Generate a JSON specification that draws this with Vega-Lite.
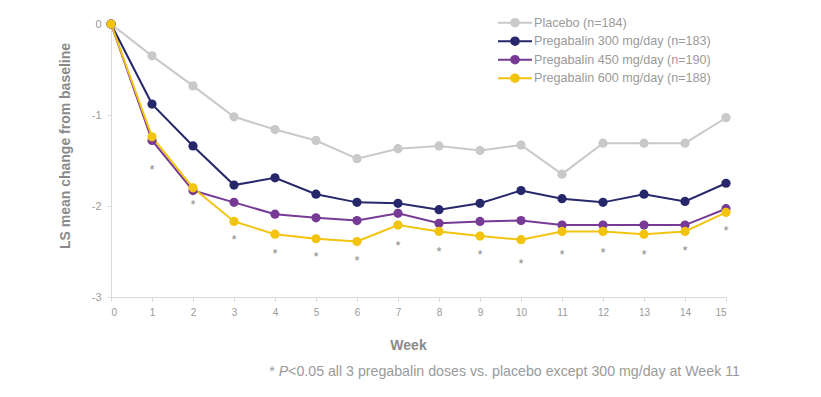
{
  "$schema": "https://vega.github.io/schema/vega-lite/v6.json",
  "width": 615,
  "height": 273,
  "autosize": "none",
  "padding": {"left": 111, "top": 24, "right": 95, "bottom": 100},
  "background": "white",
  "config": {
    "view": {"stroke": null},
    "font": "Liberation Sans",
    "axis": {"grid": false, "domainColor": "#d9d9d9", "tickColor": "#d9d9d9", "labelColor": "#9a9a9a", "labelFontSize": 11, "titleColor": "#8a8a8a", "titleFontSize": 14, "titleFontWeight": "bold", "labelFont": "Liberation Sans", "titleFont": "Liberation Sans"}
  },
  "datasets": {
    "series": [
      {"week": 0, "group": "Placebo (n=184)", "value": 0},
      {"week": 1, "group": "Placebo (n=184)", "value": -0.35},
      {"week": 2, "group": "Placebo (n=184)", "value": -0.68},
      {"week": 3, "group": "Placebo (n=184)", "value": -1.02},
      {"week": 4, "group": "Placebo (n=184)", "value": -1.16},
      {"week": 5, "group": "Placebo (n=184)", "value": -1.28},
      {"week": 6, "group": "Placebo (n=184)", "value": -1.48},
      {"week": 7, "group": "Placebo (n=184)", "value": -1.37},
      {"week": 8, "group": "Placebo (n=184)", "value": -1.34},
      {"week": 9, "group": "Placebo (n=184)", "value": -1.39},
      {"week": 10, "group": "Placebo (n=184)", "value": -1.33},
      {"week": 11, "group": "Placebo (n=184)", "value": -1.65},
      {"week": 12, "group": "Placebo (n=184)", "value": -1.31},
      {"week": 13, "group": "Placebo (n=184)", "value": -1.31},
      {"week": 14, "group": "Placebo (n=184)", "value": -1.31},
      {"week": 15, "group": "Placebo (n=184)", "value": -1.03},
      {"week": 0, "group": "Pregabalin 300 mg/day (n=183)", "value": 0},
      {"week": 1, "group": "Pregabalin 300 mg/day (n=183)", "value": -0.88},
      {"week": 2, "group": "Pregabalin 300 mg/day (n=183)", "value": -1.34},
      {"week": 3, "group": "Pregabalin 300 mg/day (n=183)", "value": -1.77},
      {"week": 4, "group": "Pregabalin 300 mg/day (n=183)", "value": -1.69},
      {"week": 5, "group": "Pregabalin 300 mg/day (n=183)", "value": -1.87},
      {"week": 6, "group": "Pregabalin 300 mg/day (n=183)", "value": -1.96},
      {"week": 7, "group": "Pregabalin 300 mg/day (n=183)", "value": -1.97},
      {"week": 8, "group": "Pregabalin 300 mg/day (n=183)", "value": -2.04},
      {"week": 9, "group": "Pregabalin 300 mg/day (n=183)", "value": -1.97},
      {"week": 10, "group": "Pregabalin 300 mg/day (n=183)", "value": -1.83},
      {"week": 11, "group": "Pregabalin 300 mg/day (n=183)", "value": -1.92},
      {"week": 12, "group": "Pregabalin 300 mg/day (n=183)", "value": -1.96},
      {"week": 13, "group": "Pregabalin 300 mg/day (n=183)", "value": -1.87},
      {"week": 14, "group": "Pregabalin 300 mg/day (n=183)", "value": -1.95},
      {"week": 15, "group": "Pregabalin 300 mg/day (n=183)", "value": -1.75},
      {"week": 0, "group": "Pregabalin 450 mg/day (n=190)", "value": 0},
      {"week": 1, "group": "Pregabalin 450 mg/day (n=190)", "value": -1.28},
      {"week": 2, "group": "Pregabalin 450 mg/day (n=190)", "value": -1.83},
      {"week": 3, "group": "Pregabalin 450 mg/day (n=190)", "value": -1.96},
      {"week": 4, "group": "Pregabalin 450 mg/day (n=190)", "value": -2.09},
      {"week": 5, "group": "Pregabalin 450 mg/day (n=190)", "value": -2.13},
      {"week": 6, "group": "Pregabalin 450 mg/day (n=190)", "value": -2.16},
      {"week": 7, "group": "Pregabalin 450 mg/day (n=190)", "value": -2.08},
      {"week": 8, "group": "Pregabalin 450 mg/day (n=190)", "value": -2.19},
      {"week": 9, "group": "Pregabalin 450 mg/day (n=190)", "value": -2.17},
      {"week": 10, "group": "Pregabalin 450 mg/day (n=190)", "value": -2.16},
      {"week": 11, "group": "Pregabalin 450 mg/day (n=190)", "value": -2.21},
      {"week": 12, "group": "Pregabalin 450 mg/day (n=190)", "value": -2.21},
      {"week": 13, "group": "Pregabalin 450 mg/day (n=190)", "value": -2.21},
      {"week": 14, "group": "Pregabalin 450 mg/day (n=190)", "value": -2.21},
      {"week": 15, "group": "Pregabalin 450 mg/day (n=190)", "value": -2.03},
      {"week": 0, "group": "Pregabalin 600 mg/day (n=188)", "value": 0},
      {"week": 1, "group": "Pregabalin 600 mg/day (n=188)", "value": -1.24},
      {"week": 2, "group": "Pregabalin 600 mg/day (n=188)", "value": -1.80},
      {"week": 3, "group": "Pregabalin 600 mg/day (n=188)", "value": -2.17},
      {"week": 4, "group": "Pregabalin 600 mg/day (n=188)", "value": -2.31},
      {"week": 5, "group": "Pregabalin 600 mg/day (n=188)", "value": -2.36},
      {"week": 6, "group": "Pregabalin 600 mg/day (n=188)", "value": -2.39},
      {"week": 7, "group": "Pregabalin 600 mg/day (n=188)", "value": -2.21},
      {"week": 8, "group": "Pregabalin 600 mg/day (n=188)", "value": -2.28},
      {"week": 9, "group": "Pregabalin 600 mg/day (n=188)", "value": -2.33},
      {"week": 10, "group": "Pregabalin 600 mg/day (n=188)", "value": -2.37},
      {"week": 11, "group": "Pregabalin 600 mg/day (n=188)", "value": -2.28},
      {"week": 12, "group": "Pregabalin 600 mg/day (n=188)", "value": -2.28},
      {"week": 13, "group": "Pregabalin 600 mg/day (n=188)", "value": -2.31},
      {"week": 14, "group": "Pregabalin 600 mg/day (n=188)", "value": -2.28},
      {"week": 15, "group": "Pregabalin 600 mg/day (n=188)", "value": -2.07}
    ],
    "stars": [
      {"week": 1, "value": -1.57},
      {"week": 2, "value": -1.96},
      {"week": 3, "value": -2.34},
      {"week": 4, "value": -2.49},
      {"week": 5, "value": -2.53},
      {"week": 6, "value": -2.57},
      {"week": 7, "value": -2.41},
      {"week": 8, "value": -2.47},
      {"week": 9, "value": -2.51},
      {"week": 10, "value": -2.60},
      {"week": 11, "value": -2.50},
      {"week": 12, "value": -2.48},
      {"week": 13, "value": -2.51},
      {"week": 14, "value": -2.46},
      {"week": 15, "value": -2.24}
    ],
    "note": [
      {"week": 3.86, "value": -3.824, "text": "*", "style": "normal"},
      {"week": 4.09, "value": -3.824, "text": "P", "style": "italic"},
      {"week": 4.32, "value": -3.824, "text": "<0.05 all 3 pregabalin doses vs. placebo except 300 mg/day at Week 11", "style": "normal"}
    ]
  },
  "layer": [
    {
      "data": {"name": "series"},
      "mark": {"type": "line", "strokeWidth": 2, "point": {"filled": true, "size": 85, "opacity": 1}},
      "encoding": {
        "x": {"field": "week", "type": "quantitative", "scale": {"domain": [0, 15], "nice": false},
          "axis": {"values": [0,1,2,3,4,5,6,7,8,9,10,11,12,13,14,15], "title": "Week", "labelFontSize": 10, "tickSize": 4, "labelPadding": 6, "titleX": 297, "titleY": 48, "titleBaseline": "middle"}},
        "y": {"field": "value", "type": "quantitative", "scale": {"domain": [-3, 0], "nice": false},
          "axis": {"values": [0, -1, -2, -3], "title": "LS mean change from baseline", "tickSize": 4, "labelPadding": 6,
            "labelExpr": "datum.value == 0 ? '0' : '-' + abs(datum.value)",
            "titleX": -46, "titleY": 121.5, "titleBaseline": "middle"}},
        "color": {"field": "group", "type": "nominal",
          "scale": {"domain": ["Placebo (n=184)", "Pregabalin 300 mg/day (n=183)", "Pregabalin 450 mg/day (n=190)", "Pregabalin 600 mg/day (n=188)"],
                    "range": ["#c9c9c9", "#27286b", "#773b95", "#f2c40f"]},
          "legend": {"title": null, "orient": "none", "legendX": 386, "legendY": -10.8, "padding": 0,
            "symbolType": "M-1,0H3M0.55,0A0.45,0.45,0,1,1,1.45,0A0.45,0.45,0,1,1,0.55,0Z",
            "symbolSize": 289, "symbolStrokeWidth": 2, "labelOffset": 18, "rowPadding": 0.5,
            "labelFontSize": 12.6, "labelColor": "#9a9a9a", "labelFont": "Liberation Sans", "labelLimit": 400,
            "encode": {"symbols": {"update": {"fill": {"scale": "color", "field": "value"}, "stroke": {"scale": "color", "field": "value"}, "opacity": {"value": 1}}}}}
        },
        "order": {"field": "week", "type": "quantitative"}
      }
    },
    {
      "data": {"name": "stars"},
      "mark": {"type": "text", "text": "*", "fontSize": 13, "color": "#8c8c8c", "baseline": "alphabetic", "dy": 7, "font": "Liberation Sans"},
      "encoding": {
        "x": {"field": "week", "type": "quantitative"},
        "y": {"field": "value", "type": "quantitative"}
      }
    },
    {
      "data": {"name": "note"},
      "transform": [{"filter": "datum.style === 'normal'"}],
      "mark": {"type": "text", "fontSize": 14.2, "color": "#9a9a9a", "align": "left", "baseline": "middle", "font": "Liberation Sans"},
      "encoding": {
        "x": {"field": "week", "type": "quantitative"},
        "y": {"field": "value", "type": "quantitative"},
        "text": {"field": "text"}
      }
    },
    {
      "data": {"name": "note"},
      "transform": [{"filter": "datum.style === 'italic'"}],
      "mark": {"type": "text", "fontSize": 14.2, "color": "#9a9a9a", "align": "left", "baseline": "middle", "fontStyle": "italic", "font": "Liberation Sans"},
      "encoding": {
        "x": {"field": "week", "type": "quantitative"},
        "y": {"field": "value", "type": "quantitative"},
        "text": {"field": "text"}
      }
    }
  ]
}
